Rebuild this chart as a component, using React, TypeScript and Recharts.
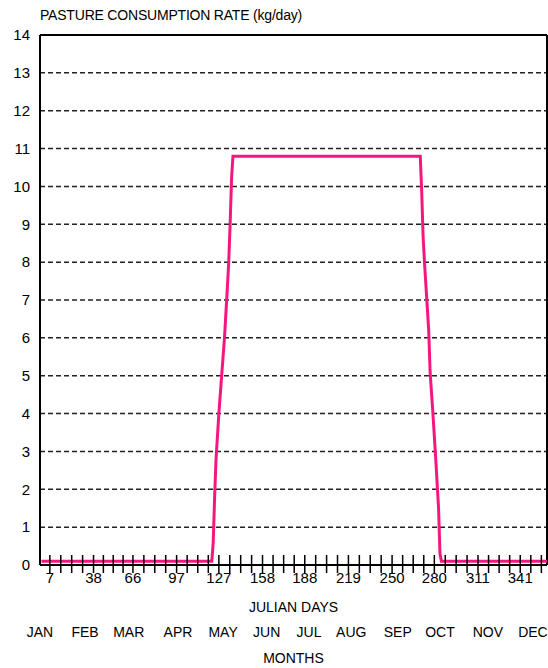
import { CartesianGrid, Line, LineChart, ReferenceLine, XAxis, YAxis } from "recharts";

// pasture consumption (kg/day) by julian day
const DAYS = [1, 122, 123, 124, 125, 127, 129, 131, 133, 134, 135, 136, 137, 270, 271, 272, 273, 274, 276, 277, 279, 281, 283, 284, 285, 360];
const RATE = [0.1, 0.1, 0.6, 1.8, 2.8, 4.0, 5.0, 6.0, 7.3, 8.0, 9.0, 10.2, 10.8, 10.8, 9.9, 8.7, 8.0, 7.4, 6.2, 5.1, 4.0, 2.8, 1.5, 0.3, 0.1, 0.1];

const DAY_LABELS = [7, 38, 66, 97, 127, 158, 188, 219, 250, 280, 311, 341];
const MONTHS = ["JAN", "FEB", "MAR", "APR", "MAY", "JUN", "JUL", "AUG", "SEP", "OCT", "NOV", "DEC"];
const MONTH_POS = [0, 32, 63, 98, 130, 161, 191, 221, 254, 284, 318, 350];
const Y_TICKS = [0, 1, 2, 3, 4, 5, 6, 7, 8, 9, 10, 11, 12, 13, 14];

const FONT = "'Liberation Sans', Arial, sans-serif";

const rows = DAYS.map((d, i) => ({ day: d, rate: RATE[i] }));

// labelled tick + 3 small ones up to the next label
const dayTicks: number[] = [];
DAY_LABELS.forEach((d, i) => {
  const next = DAY_LABELS[i + 1] ?? d + 30;
  const step = (next - d) / 4;
  for (let k = 0; k < 4; k++) {
    const t = d + k * step;
    if (t < 360) dayTicks.push(t);
  }
});

function DayTick(props: any) {
  const { x, y, payload } = props;
  const v = payload.value;
  const shown = DAY_LABELS.includes(v);
  return (
    <g>
      <line x1={x} x2={x} y1={y - 10} y2={y + 8} stroke="#000" strokeWidth={1.5} />
      {shown && (
        <text x={x} y={y + 18} textAnchor="middle" fontSize={15} fontFamily={FONT} fill="#000">
          {v}
        </text>
      )}
    </g>
  );
}

export default function App() {
  return (
    <div style={{ position: "absolute", left: 0, top: 0, width: 548, height: 668, background: "#fff" }}>
      <div
        style={{
          position: "absolute",
          left: 40,
          top: 7,
          fontFamily: FONT,
          fontSize: 14,
          letterSpacing: -0.2,
          color: "#000",
          whiteSpace: "nowrap",
        }}
      >
        PASTURE CONSUMPTION RATE (kg/day)
      </div>
      <LineChart width={548} height={668} data={rows} margin={{ top: 35, right: 1, bottom: 0, left: 0 }}>
        <CartesianGrid vertical={false} stroke="#222" strokeWidth={1.5} strokeDasharray="5 3" />
        <XAxis
          dataKey="day"
          type="number"
          domain={[0, 360]}
          allowDataOverflow
          ticks={dayTicks}
          interval={0}
          tickSize={0}
          tickMargin={0}
          tickLine={false}
          tick={<DayTick />}
          axisLine={{ stroke: "#000", strokeWidth: 2 }}
          height={52}
          label={{ value: "JULIAN DAYS", position: "insideBottom", offset: 5, fontSize: 14, fontFamily: FONT, fill: "#000" }}
        />
        <XAxis
          xAxisId="m"
          dataKey="day"
          type="number"
          domain={[0, 360]}
          allowDataOverflow
          ticks={MONTH_POS}
          interval={0}
          tickFormatter={(v) => MONTHS[MONTH_POS.indexOf(v)] ?? ""}
          tickSize={0}
          tickMargin={10}
          tickLine={false}
          axisLine={false}
          tick={{ fontSize: 14, fontFamily: FONT, fill: "#000" }}
          height={51}
          label={{ value: "MONTHS", position: "insideBottom", offset: 5, fontSize: 14, fontFamily: FONT, fill: "#000" }}
        />
        <YAxis
          type="number"
          domain={[0, 14]}
          ticks={Y_TICKS}
          interval={0}
          width={40}
          tickSize={0}
          tickMargin={10}
          tickLine={false}
          axisLine={{ stroke: "#000", strokeWidth: 2 }}
          tick={{ fontSize: 15, fontFamily: FONT, fill: "#000" }}
        />
        <ReferenceLine y={14} stroke="#000" strokeWidth={2} />
        <ReferenceLine x={360} stroke="#000" strokeWidth={2} />
        {/* invisible copy so the month axis gets a domain */}
        <Line
          xAxisId="m"
          type="linear"
          dataKey="rate"
          stroke="none"
          dot={false}
          activeDot={false}
          legendType="none"
          isAnimationActive={false}
        />
        <Line
          type="linear"
          dataKey="rate"
          stroke="#f5177f"
          strokeWidth={3}
          dot={false}
          isAnimationActive={false}
        />
      </LineChart>
    </div>
  );
}
